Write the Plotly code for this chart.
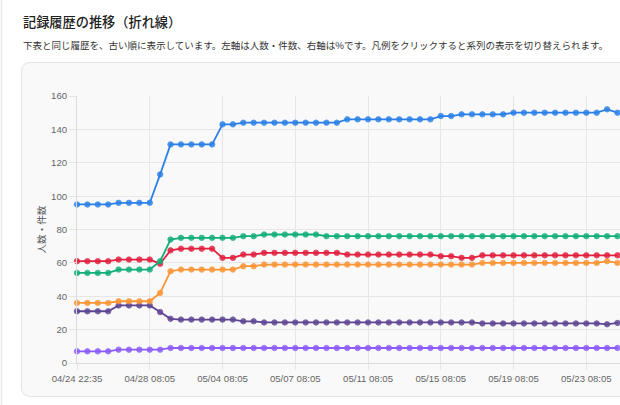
import plotly.graph_objects as go

# ---- data ----
tick_labels = ["04/24 22:35", "04/28 08:05", "05/04 08:05", "05/07 08:05",
               "05/11 08:05", "05/15 08:05", "05/19 08:05", "05/23 08:05"]

series_blue = ([95, 95, 95, 95, 96, 96, 96, 96, 113, 131, 131, 131, 131, 131, 143, 143]
               + [144] * 10 + [146] * 9 + [148, 148] + [149] * 5 + [150] * 9 + [152, 150])
series_green = ([54] * 4 + [56] * 4 + [61, 74] + [75] * 6 + [76, 76] + [77] * 6 + [76] * 29)
series_red = ([61] * 4 + [62] * 4 + [59.5, 67.5] + [68.5] * 4 + [63, 63] + [65, 65]
              + [66] * 8 + [65] * 9 + [64, 64] + [63, 63] + [64.5] * 14)
series_orange = ([36] * 4 + [37] * 4 + [42, 55] + [56] * 6 + [58, 58] + [59] * 21
                 + [60] * 12 + [61, 60])
series_darkpurple = ([31] * 4 + [34.5] * 4 + [30.5, 26.5] + [26] * 6 + [25, 25]
                     + [24.3] * 21 + [23.7] * 12 + [23.2, 24])
series_violet = ([7] * 4 + [8] * 5 + [9] * 44)

n_points = len(series_blue)
x_idx = list(range(n_points))
tick_step = 7

# ---- layout geometry ----
W, H = 620, 405
L, R, T, B = 77, 0, 96, 42
PW, PH = W - L - R, H - T - B


def px_x(px):
    return (px - L) / PW


def px_y(py):
    return (H - B - py) / PH


colors = {
    "violet": "#8b5cf6",
    "darkpurple": "#5e4593",
    "orange": "#fb9535",
    "red": "#e2203f",
    "green": "#12ae7a",
    "blue": "#2b80e8",
}

fig = go.Figure()
for name, ys in [("violet", series_violet), ("darkpurple", series_darkpurple),
                 ("orange", series_orange), ("red", series_red),
                 ("green", series_green), ("blue", series_blue)]:
    c = colors[name]
    fig.add_trace(go.Scatter(
        x=x_idx, y=ys, mode="lines+markers", name=name,
        line=dict(color=c, width=1.8),
        marker=dict(color=c, size=5.5, opacity=0.85, line=dict(color=c, width=0.8)),
        cliponaxis=False, showlegend=False, hoverinfo="skip"))

grid = "#e6e6e6"
tick_font = dict(family="Liberation Sans, Arial, sans-serif", size=9.6, color="#666")

fig.update_xaxes(
    range=[0, PW / (509.3 / 49)],
    tickmode="array",
    tickvals=x_idx[::tick_step][:len(tick_labels)],
    ticktext=tick_labels,
    showgrid=True, gridcolor=grid, gridwidth=1,
    ticks="outside", ticklen=6, tickcolor=grid,
    showline=True, linecolor="#dcdcdc", linewidth=1,
    zeroline=False, tickfont=tick_font,
)
fig.update_yaxes(
    range=[0, 160], dtick=20, tick0=0,
    showgrid=True, gridcolor=grid, gridwidth=1,
    ticks="outside", ticklen=7, tickcolor=grid,
    showline=True, linecolor="#dcdcdc", linewidth=1,
    zeroline=False, tickfont=tick_font,
)

# card path with rounded left corners
cl, ct, cr, cb, rad = 21.5, 62.5, 720, 396.5, 9
card_path = (
    f"M {px_x(cl + rad)} {px_y(ct)} L {px_x(cr)} {px_y(ct)} L {px_x(cr)} {px_y(cb)} "
    f"L {px_x(cl + rad)} {px_y(cb)} Q {px_x(cl)} {px_y(cb)} {px_x(cl)} {px_y(cb - rad)} "
    f"L {px_x(cl)} {px_y(ct + rad)} Q {px_x(cl)} {px_y(ct)} {px_x(cl + rad)} {px_y(ct)} Z"
)

shapes = [
    dict(type="path", xref="paper", yref="paper", path=card_path,
         fillcolor="#f9f9f9", line=dict(color="#e2e2e2", width=1), layer="below"),
    dict(type="line", xref="paper", yref="paper",
         x0=px_x(1.5), x1=px_x(1.5), y0=px_y(0), y1=px_y(H),
         line=dict(color="#e8e8e8", width=1.5), layer="below"),
]

jp = "Noto Sans CJK JP, sans-serif"
annotations = [
    dict(text="記録履歴の推移（折れ線）", xref="paper", yref="paper",
         x=px_x(21), y=px_y(21.5), xanchor="left", yanchor="middle", showarrow=False,
         font=dict(family=jp, size=13.2, color="#222", weight=500)),
    dict(text="下表と同じ履歴を、古い順に表示しています。左軸は人数・件数、右軸は%です。凡例をクリックすると系列の表示を切り替えられます。",
         xref="paper", yref="paper",
         x=px_x(21), y=px_y(44.5), xanchor="left", yanchor="middle", showarrow=False,
         font=dict(family=jp, size=9.5, color="#333")),
    dict(text="人数・件数", xref="paper", yref="paper",
         x=px_x(40), y=px_y(229.5), xanchor="center", yanchor="middle", showarrow=False,
         textangle=-90, font=dict(family=jp, size=9.6, color="#555")),
]

fig.update_layout(
    width=W, height=H,
    margin=dict(l=L, r=R, t=T, b=B, pad=0),
    paper_bgcolor="white",
    plot_bgcolor="rgba(0,0,0,0)",
    shapes=shapes,
    annotations=annotations,
    showlegend=False,
)

fig.write_html("out.html", config={"displayModeBar": False})
